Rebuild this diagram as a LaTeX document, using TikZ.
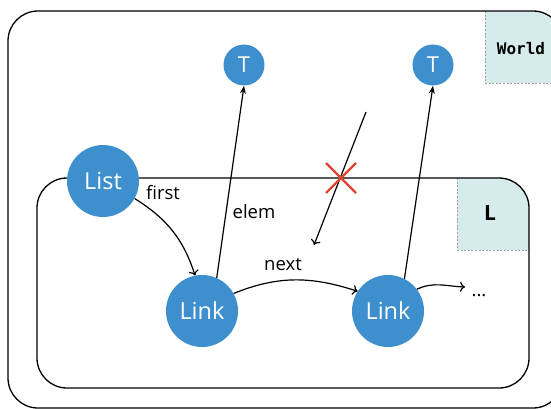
\documentclass[tikz,border=0pt]{standalone}
\usepackage{fontspec}
\setmainfont{Open Sans}
\setmonofont{DejaVu Sans Mono}
\usetikzlibrary{arrows.meta}
\definecolor{nodeblue}{RGB}{62,143,206}
\definecolor{regionfill}{RGB}{214,236,236}
\definecolor{xred}{RGB}{226,67,47}
\tikzset{
  obj/.style={circle, fill=nodeblue, text=white, inner sep=0pt},
  bigobj/.style={obj, minimum size=72pt, font=\fontsize{23.5}{23.5}\selectfont},
  smallobj/.style={obj, minimum size=41pt, font=\fontsize{22}{22}\selectfont},
  lbl/.style={font=\fontsize{18.5}{18.5}\selectfont, inner sep=0pt},
  regionedge/.style={draw=gray!75, dash pattern=on 2pt off 1.6pt, line width=0.9pt},
  boxline/.style={line width=1.3pt, rounded corners=30pt},
  conn/.style={line width=1.2pt, -{To[length=5pt,width=10pt]}},
  elemconn/.style={line width=1.2pt, -{Stealth[length=8pt,width=6pt]}},
}
\begin{document}
\begin{tikzpicture}[x=1pt,y=-1pt]
\useasboundingbox (0,0) rectangle (551,409);
\clip (0,0) rectangle (551,409);
% outer world region
\begin{scope}
  \clip[rounded corners=30pt] (8,11) rectangle (563,408);
  \fill[regionfill] (485,11) rectangle (570,83);
\end{scope}
\draw[regionedge] (485,11) -- (485,83) -- (570,83);
\draw[boxline] (8,11) rectangle (563,408);
\node[font=\ttfamily\bfseries\fontsize{16}{16}\selectfont] (world) at (521,49) {World};
% inner L region
\begin{scope}
  \clip[rounded corners=30pt] (37,178) rectangle (529,388);
  \fill[regionfill] (457,178) rectangle (535,250);
\end{scope}
\draw[regionedge] (457,178) -- (457,250) -- (529,250);
\draw[boxline] (37,178) rectangle (529,388);
\node[font=\bfseries\fontsize{21}{21}\selectfont] (lname) at (490,213) {L};
% nodes
\node[smallobj] (t1) at (244,65) {T};
\node[smallobj] (t2) at (433,65) {T};
\node[bigobj] (list) at (103,181) {List};
\node[bigobj] (link1) at (202,311) {Link};
\node[bigobj] (link2) at (388,311) {Link};
\coordinate (more) at (465,287);
\node[lbl] (dots) at (479,296) {...};
% connectors
\draw[conn] (list.-29) to[out=-32,in=108] (link1.101);
\draw[elemconn] (link1.66) -- (t1.south);
\draw[elemconn] (link2.63) -- (t2.south);
\draw[conn] (link1.29) to[out=22,in=162] (link2.147);
\draw[conn] (link2.37) to[out=25,in=178] (more);
% labels
\node[lbl] (first) at (163,193) {first};
\node[lbl] (elem) at (254,212) {elem};
\node[lbl] (next) at (283,264) {next};
% cancelled reference
\coordinate (xs) at (366,112);
\coordinate (xe) at (314,245);
\draw[conn] (xs) -- (xe);
\coordinate (xc) at (341,178);
\draw[xred, line width=2.2pt] ([shift={(-15,-15)}]xc) -- ([shift={(15,15)}]xc)
  ([shift={(-15,15)}]xc) -- ([shift={(15,-15)}]xc);
\end{tikzpicture}
\end{document}
